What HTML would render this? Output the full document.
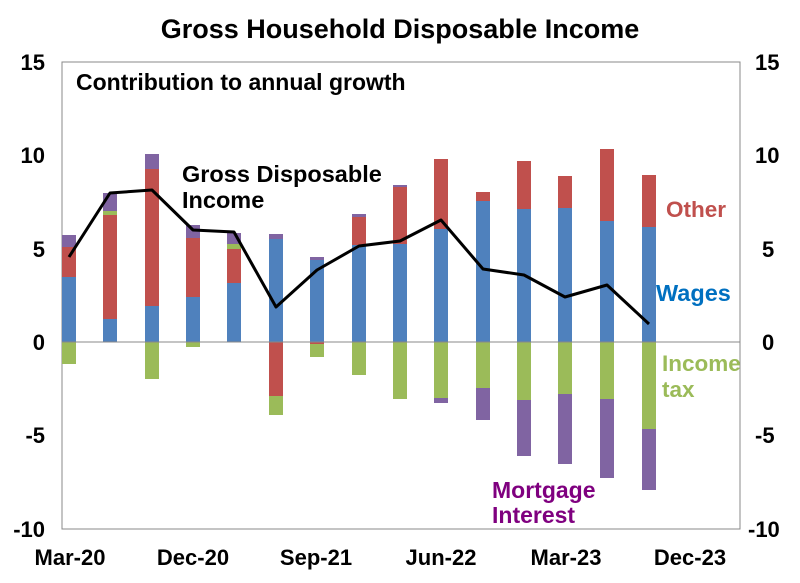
<!DOCTYPE html><html><head><style>body{margin:0;background:#fff}</style></head><body>
<svg width="800" height="578" xmlns="http://www.w3.org/2000/svg" font-family="Liberation Sans, Arial, sans-serif" font-weight="bold">
<rect width="800" height="578" fill="#fff"/>
<text x="400" y="38" text-anchor="middle" font-size="27">Gross Household Disposable Income</text>
<rect x="62" y="62" width="678" height="467" fill="none" stroke="#888" stroke-width="1"/>
<g font-size="22" text-anchor="end">
<text x="45" y="70">15</text><text x="45" y="163">10</text><text x="45" y="257">5</text><text x="45" y="350">0</text><text x="45" y="443">-5</text><text x="45" y="537">-10</text></g>
<g font-size="22" text-anchor="start">
<text x="755" y="70">15</text><text x="755" y="163">10</text><text x="762" y="257">5</text><text x="762" y="350">0</text><text x="755" y="443">-5</text><text x="748" y="537">-10</text></g>
<g font-size="22" text-anchor="middle">
<text x="70" y="565">Mar-20</text><text x="193" y="565">Dec-20</text><text x="316" y="565">Sep-21</text><text x="441" y="565">Jun-22</text><text x="566" y="565">Mar-23</text><text x="690" y="565">Dec-23</text></g>
<text x="76" y="90" font-size="23">Contribution to annual growth</text>
<g id="bars">
<rect x="62" y="235" width="14" height="12" fill="#8064A2"/><rect x="62" y="247" width="14" height="30" fill="#C0504D"/><rect x="62" y="277" width="14" height="65" fill="#4F81BD"/><rect x="62" y="342" width="14" height="22" fill="#9BBB59"/>
<rect x="103" y="193" width="14" height="18" fill="#8064A2"/><rect x="103" y="211" width="14" height="4" fill="#9BBB59"/><rect x="103" y="215" width="14" height="104" fill="#C0504D"/><rect x="103" y="319" width="14" height="23" fill="#4F81BD"/>
<rect x="145" y="154" width="14" height="15" fill="#8064A2"/><rect x="145" y="169" width="14" height="137" fill="#C0504D"/><rect x="145" y="306" width="14" height="36" fill="#4F81BD"/><rect x="145" y="342" width="14" height="37" fill="#9BBB59"/>
<rect x="186" y="225" width="14" height="13" fill="#8064A2"/><rect x="186" y="238" width="14" height="59" fill="#C0504D"/><rect x="186" y="297" width="14" height="45" fill="#4F81BD"/><rect x="186" y="342" width="14" height="5" fill="#9BBB59"/>
<rect x="227" y="233" width="14" height="11" fill="#8064A2"/><rect x="227" y="244" width="14" height="5" fill="#9BBB59"/><rect x="227" y="249" width="14" height="34" fill="#C0504D"/><rect x="227" y="283" width="14" height="59" fill="#4F81BD"/>
<rect x="269" y="234" width="14" height="5" fill="#8064A2"/><rect x="269" y="239" width="14" height="103" fill="#4F81BD"/><rect x="269" y="342" width="14" height="54" fill="#C0504D"/><rect x="269" y="396" width="14" height="19" fill="#9BBB59"/>
<rect x="310" y="257" width="14" height="3" fill="#8064A2"/><rect x="310" y="260" width="14" height="82" fill="#4F81BD"/><rect x="310" y="342" width="14" height="2" fill="#C0504D"/><rect x="310" y="344" width="14" height="13" fill="#9BBB59"/>
<rect x="352" y="214" width="14" height="3" fill="#8064A2"/><rect x="352" y="217" width="14" height="28" fill="#C0504D"/><rect x="352" y="245" width="14" height="97" fill="#4F81BD"/><rect x="352" y="342" width="14" height="33" fill="#9BBB59"/>
<rect x="393" y="185" width="14" height="2" fill="#8064A2"/><rect x="393" y="187" width="14" height="57" fill="#C0504D"/><rect x="393" y="244" width="14" height="98" fill="#4F81BD"/><rect x="393" y="342" width="14" height="57" fill="#9BBB59"/>
<rect x="434" y="159" width="14" height="70" fill="#C0504D"/><rect x="434" y="229" width="14" height="113" fill="#4F81BD"/><rect x="434" y="342" width="14" height="56" fill="#9BBB59"/><rect x="434" y="398" width="14" height="5" fill="#8064A2"/>
<rect x="476" y="192" width="14" height="9" fill="#C0504D"/><rect x="476" y="201" width="14" height="141" fill="#4F81BD"/><rect x="476" y="342" width="14" height="46" fill="#9BBB59"/><rect x="476" y="388" width="14" height="32" fill="#8064A2"/>
<rect x="517" y="161" width="14" height="48" fill="#C0504D"/><rect x="517" y="209" width="14" height="133" fill="#4F81BD"/><rect x="517" y="342" width="14" height="58" fill="#9BBB59"/><rect x="517" y="400" width="14" height="56" fill="#8064A2"/>
<rect x="558" y="176" width="14" height="32" fill="#C0504D"/><rect x="558" y="208" width="14" height="134" fill="#4F81BD"/><rect x="558" y="342" width="14" height="52" fill="#9BBB59"/><rect x="558" y="394" width="14" height="70" fill="#8064A2"/>
<rect x="600" y="149" width="14" height="72" fill="#C0504D"/><rect x="600" y="221" width="14" height="121" fill="#4F81BD"/><rect x="600" y="342" width="14" height="57" fill="#9BBB59"/><rect x="600" y="399" width="14" height="79" fill="#8064A2"/>
<rect x="642" y="175" width="14" height="52" fill="#C0504D"/><rect x="642" y="227" width="14" height="115" fill="#4F81BD"/><rect x="642" y="342" width="14" height="87" fill="#9BBB59"/><rect x="642" y="429" width="14" height="61" fill="#8064A2"/>
</g>
<line x1="62" y1="342" x2="740" y2="342" stroke="#888" stroke-width="1"/>
<polyline fill="none" stroke="#000" stroke-width="3" stroke-linejoin="round" points="69,257 110,193 152,190 193,230 234,232 276,307 317,270 359,246 400,241 441,220 483,269 524,275 565,297 607,285 649,324"/>
<text x="182" y="182" font-size="23.5">Gross Disposable</text>
<text x="182" y="208" font-size="23.5">Income</text>
<text x="666" y="217" font-size="22.5" fill="#C0504D">Other</text>
<text x="656" y="301" font-size="23.5" fill="#0070C0">Wages</text>
<text x="662" y="371" font-size="22.5" fill="#9BBB59">Income</text>
<text x="662" y="397" font-size="22.5" fill="#9BBB59">tax</text>
<text x="492" y="498" font-size="23" fill="#7F007F">Mortgage</text>
<text x="492" y="523" font-size="23" fill="#7F007F">Interest</text>
</svg>
</body></html>
